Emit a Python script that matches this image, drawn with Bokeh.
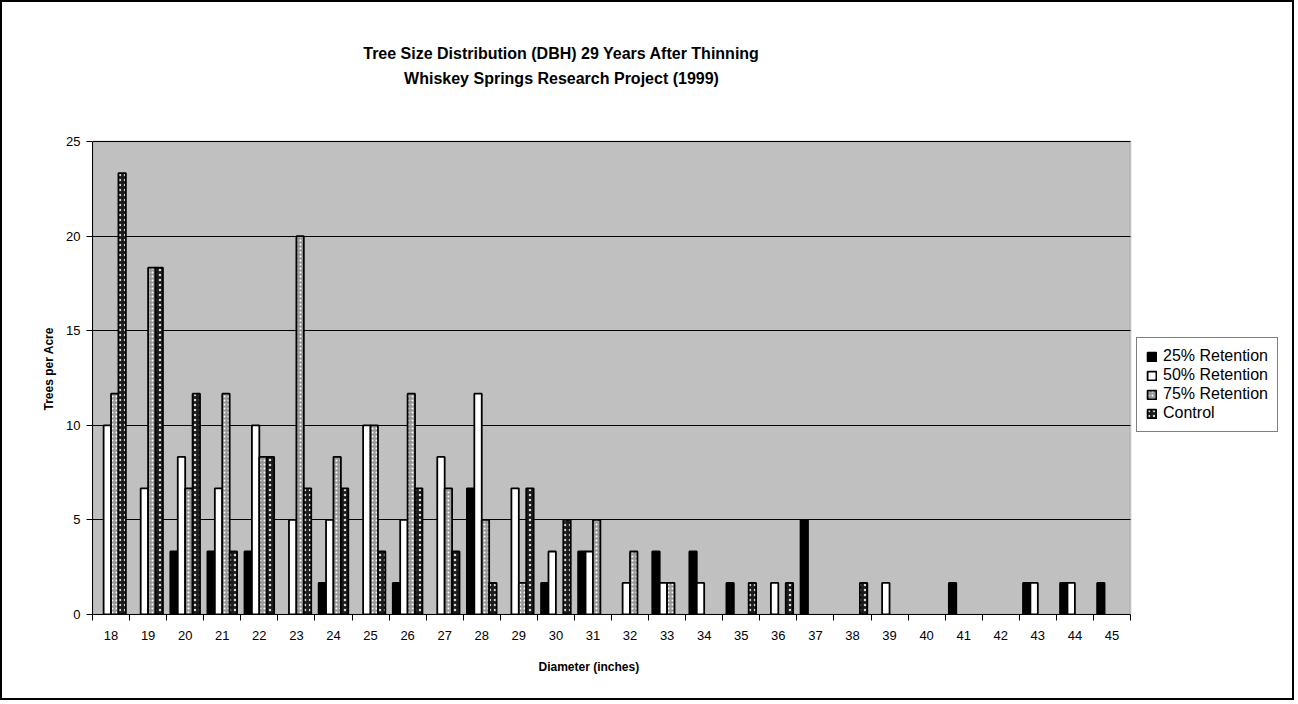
from bokeh.plotting import figure
from bokeh.models import (BoxAnnotation, ColumnDataSource, FixedTicker, Label,
                          Legend, LegendItem, Range1d, Title)
from bokeh.transform import dodge
from bokeh.embed import file_html
from bokeh.resources import INLINE

# Trees per acre by diameter class (inches), one list per treatment
diameters = list(range(18, 46))
retention_25 = [0, 0, 3.33, 3.33, 3.33, 0, 1.67, 0, 1.67, 0, 6.67, 0, 1.67, 3.33,
                0, 3.33, 3.33, 1.67, 0, 5, 0, 0, 0, 1.67, 0, 1.67, 1.67, 1.67]
retention_50 = [10, 6.67, 8.33, 6.67, 10, 5, 5, 10, 5, 8.33, 11.67, 6.67, 3.33, 3.33,
                1.67, 1.67, 1.67, 0, 1.67, 0, 0, 1.67, 0, 0, 0, 1.67, 1.67, 0]
retention_75 = [11.67, 18.33, 6.67, 11.67, 8.33, 20, 8.33, 10, 11.67, 6.67, 5, 1.67, 0, 5,
                3.33, 1.67, 0, 0, 0, 0, 0, 0, 0, 0, 0, 0, 0, 0]
control = [23.33, 18.33, 11.67, 3.33, 8.33, 6.67, 6.67, 3.33, 6.67, 3.33, 1.67, 6.67, 5, 0,
           0, 0, 0, 1.67, 1.67, 0, 1.67, 0, 0, 0, 0, 0, 0, 0]

series_names = ["25% Retention", "50% Retention", "75% Retention", "Control"]
y_ticks = [0, 5, 10, 15, 20, 25]
title_lines = ["Tree Size Distribution (DBH) 29 Years After Thinning",
               "Whiskey Springs Research Project (1999)"]
x_title = "Diameter (inches)"
y_title = "Trees per Acre"

FONT = "Liberation Sans"

# Page geometry (pixels). The drawing frame spans almost the whole page so the
# title and legend can sit inside it; the grey plot area is a box within it.
W, H = 1294, 700
LEFT, RIGHT, TOP, BOTTOM = 90, 4, 4, 88
AREA_W, AREA_H = 1038, 473            # grey plot area size
frame_w = W - LEFT - RIGHT
frame_h = H - TOP - BOTTOM

x_lo, x_hi = diameters[0] - 0.5, diameters[-1] + 0.5
y_lo, y_hi = y_ticks[0], y_ticks[-1]
x_end = x_lo + (x_hi - x_lo) * frame_w / AREA_W
y_end = y_lo + (y_hi - y_lo) * frame_h / AREA_H

p = figure(width=W, height=H,
           x_range=Range1d(x_lo, x_end), y_range=Range1d(y_lo, y_end),
           output_backend="svg", toolbar_location=None,
           min_border_left=LEFT, min_border_right=RIGHT,
           min_border_top=TOP, min_border_bottom=BOTTOM,
           styles={"border": "2px solid black"})
p.title = None
p.background_fill_color = "white"
p.border_fill_color = "white"
p.outline_line_color = None

# grey plot area with its border
p.add_layout(BoxAnnotation(left=x_lo, right=x_hi, bottom=y_lo, top=y_hi,
                           fill_color="#c0c0c0", fill_alpha=1,
                           line_color="#808080", line_width=2, level="image"))

# horizontal gridlines only, limited to the plot area
p.xgrid.visible = False
p.ygrid.grid_line_color = "black"
p.ygrid.grid_line_width = 1
p.ygrid.cross_bounds = (x_lo, x_hi)

# y axis
p.yaxis.ticker = FixedTicker(ticks=y_ticks)
p.yaxis.bounds = (y_lo, y_hi)
p.yaxis.major_tick_out = 6
p.yaxis.major_tick_in = 0
p.yaxis.minor_tick_line_color = None
p.yaxis.major_label_standoff = 6

# x axis: labels at class centres, tick marks between classes
p.xaxis.ticker = FixedTicker(ticks=diameters,
                             minor_ticks=[d - 0.5 for d in diameters] + [x_hi])
p.xaxis.bounds = (x_lo, x_hi)
p.xaxis.major_tick_out = 6
p.xaxis.major_tick_in = 0
p.xaxis.major_tick_line_color = None
p.xaxis.minor_tick_out = 6
p.xaxis.minor_tick_in = 0
p.xaxis.minor_tick_line_color = "black"
p.xaxis.major_label_standoff = 10

for ax in (p.xaxis, p.yaxis):
    ax.axis_line_color = "black"
    ax.axis_line_width = 1
    ax.major_label_text_font = FONT
    ax.major_label_text_font_size = "13px"
    ax.major_label_text_color = "black"

# axis titles, positioned along the grey plot area rather than the whole frame
axis_title_style = dict(text_font=FONT, text_font_size="12px",
                        text_font_style="bold", text_color="black")
p.add_layout(Title(text=x_title, align="left", offset=446, standoff=30,
                   **axis_title_style), "below")
p.add_layout(Title(text=y_title, align="left", offset=204, standoff=15,
                   **axis_title_style), "left")

styles = [
    dict(fill_color="black"),
    dict(fill_color="white"),
    dict(fill_color="#9a9a9a", hatch_pattern="dot", hatch_color="white",
         hatch_scale=4, hatch_weight=1.5),
    dict(fill_color="#1c1c1c", hatch_pattern="dot", hatch_color="#d8d8d8",
         hatch_scale=5, hatch_weight=2),
]
offsets = [-0.3, -0.1, 0.1, 0.3]

items = []
for name, values, offset, style in zip(series_names,
                                       [retention_25, retention_50, retention_75, control],
                                       offsets, styles):
    xs = [d for d, v in zip(diameters, values) if v > 0]
    ys = [v for v in values if v > 0]
    src = ColumnDataSource(dict(diameter=xs, tpa=ys))
    r = p.vbar(x=dodge("diameter", offset, range=p.x_range), top="tpa", width=0.2,
               source=src, line_color="black", line_width=1.8, **style)
    items.append(LegendItem(label=name, renderers=[r]))

legend = Legend(items=items, location=(AREA_W + 6, 182),
                label_text_font=FONT, label_text_font_size="16px",
                label_text_color="black",
                glyph_width=11, glyph_height=11, label_standoff=6,
                label_height=16, spacing=1, padding=9, margin=0,
                border_line_color="black", border_line_width=1,
                background_fill_color="white", background_fill_alpha=1)
p.add_layout(legend)

# two-line chart title
for i, line in enumerate(title_lines):
    p.add_layout(Label(x=469, y=AREA_H + 88 - 25 * i, x_units="screen", y_units="screen",
                       text=line, text_align="center", text_baseline="alphabetic",
                       text_font=FONT, text_font_size="16px", text_font_style="bold",
                       text_color="black"))

open("out.html", "w").write(file_html(p, INLINE))
